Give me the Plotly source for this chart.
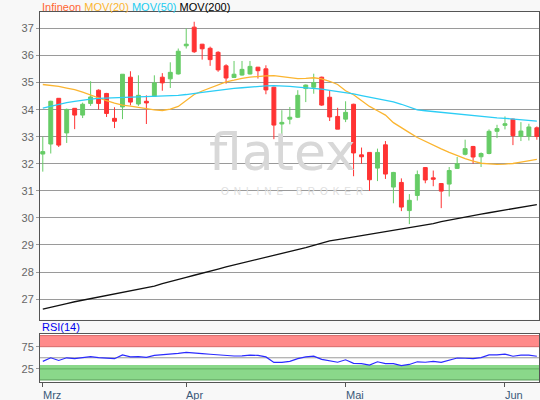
import plotly.graph_objects as go

# ---------------- data ----------------
opens = [32.36, 32.73, 34.42, 33.14, 34.05, 33.80, 34.23, 34.72, 34.60, 33.68,
         34.10, 35.20, 34.21, 34.31, 34.49, 35.20, 35.14, 35.32, 36.36, 37.05,
         36.42, 36.27, 36.12, 35.62, 35.19, 35.28, 35.32, 35.57, 35.51, 34.83,
         33.47, 33.65, 33.72, 34.78, 34.83, 35.20, 34.46, 33.75, 33.65, 34.20,
         32.33, 32.42, 31.84, 32.70, 31.14, 31.31, 30.27, 30.83, 31.86, 31.48,
         31.27, 31.25, 31.83, 32.35, 32.64, 32.26, 32.38, 33.20, 33.42, 33.65,
         33.01, 33.02, 33.33]
highs = [33.00, 34.33, 34.43, 34.04, 34.06, 34.26, 35.05, 34.75, 34.62, 34.09,
         35.31, 35.42, 35.27, 34.53, 35.27, 35.35, 35.75, 36.26, 37.00, 37.25,
         36.43, 36.33, 36.16, 35.68, 35.80, 35.80, 35.80, 35.58, 35.64, 34.85,
         33.98, 34.10, 34.72, 34.93, 35.33, 35.22, 34.69, 34.07, 34.31, 34.22,
         32.60, 32.43, 32.56, 32.84, 31.70, 31.46, 30.88, 31.75, 31.88, 31.75,
         31.28, 31.88, 32.25, 32.89, 32.66, 32.42, 33.27, 33.44, 33.75, 33.67,
         33.54, 33.48, 33.38]
lows = [31.71, 32.38, 32.62, 32.77, 33.28, 33.69, 34.14, 34.00, 33.73, 33.32,
        33.65, 34.16, 34.14, 33.47, 34.47, 34.70, 34.80, 35.30, 36.26, 36.10,
        35.85, 35.62, 35.40, 34.96, 35.17, 35.26, 35.30, 35.15, 34.57, 32.91,
        32.99, 33.46, 33.69, 34.28, 34.59, 34.14, 33.58, 33.28, 33.54, 31.54,
        32.00, 31.00, 31.36, 31.44, 30.54, 30.25, 29.77, 30.64, 31.28, 31.17,
        30.36, 30.79, 31.82, 32.31, 32.00, 31.88, 32.35, 32.95, 33.27, 32.69,
        32.84, 32.86, 32.89]
closes = [32.45, 34.31, 32.69, 34.01, 33.80, 34.20, 34.47, 34.23, 33.86, 33.57,
          35.31, 34.28, 34.53, 34.25, 34.99, 34.99, 35.38, 36.16, 36.42, 36.14,
          36.25, 35.85, 35.47, 35.17, 35.31, 35.49, 35.60, 35.44, 34.73, 33.43,
          33.53, 33.72, 34.53, 34.91, 35.00, 34.17, 33.73, 33.28, 33.90, 32.40,
          32.26, 31.41, 32.42, 31.62, 31.68, 30.40, 30.65, 31.60, 31.40, 31.43,
          30.99, 31.75, 32.00, 32.56, 32.25, 32.38, 33.20, 33.30, 33.48, 33.04,
          33.21, 33.36, 33.01]

mov20 = [34.93, 34.90, 34.86, 34.80, 34.74, 34.65, 34.54, 34.43, 34.33, 34.24,
         34.17, 34.13, 34.08, 34.03, 33.99, 33.97, 34.02, 34.12, 34.35, 34.56,
         34.69, 34.80, 34.92, 35.03, 35.09, 35.16, 35.20, 35.23, 35.25, 35.26,
         35.22, 35.17, 35.15, 35.16, 35.18, 35.14, 35.05, 34.93, 34.70, 34.55,
         34.35, 34.12, 33.96, 33.80, 33.52, 33.35, 33.15, 32.97, 32.82, 32.70,
         32.55, 32.42, 32.30, 32.19, 32.10, 32.02, 32.00, 31.98, 31.99, 32.01,
         32.06, 32.12, 32.16]
mov50 = [34.06, 34.13, 34.20, 34.26, 34.31, 34.36, 34.39, 34.42, 34.43, 34.44,
         34.45, 34.46, 34.47, 34.48, 34.48, 34.49, 34.51, 34.53, 34.56, 34.59,
         34.64, 34.68, 34.72, 34.76, 34.79, 34.81, 34.84, 34.87, 34.88, 34.89,
         34.88, 34.86, 34.83, 34.81, 34.79, 34.76, 34.71, 34.67, 34.62, 34.58,
         34.52, 34.46, 34.41, 34.35, 34.29, 34.20, 34.08, 33.99, 33.96, 33.93,
         33.90, 33.87, 33.84, 33.80, 33.77, 33.74, 33.72, 33.70, 33.68, 33.66,
         33.64, 33.61, 33.58]
mov200 = [26.63, 26.69, 26.76, 26.83, 26.90, 26.96, 27.02, 27.08, 27.14, 27.20,
          27.26, 27.31, 27.36, 27.42, 27.48, 27.57, 27.64, 27.72, 27.80, 27.88,
          27.95, 28.03, 28.11, 28.19, 28.26, 28.33, 28.40, 28.47, 28.54, 28.60,
          28.67, 28.74, 28.82, 28.90, 28.98, 29.06, 29.15, 29.20, 29.25, 29.30,
          29.35, 29.40, 29.45, 29.50, 29.54, 29.58, 29.63, 29.68, 29.73, 29.79,
          29.86, 29.92, 29.98, 30.04, 30.09, 30.14, 30.19, 30.24, 30.29, 30.33,
          30.38, 30.43, 30.49]
rsi14 = [42, 50, 44, 50, 48, 49.5, 52.5, 50.5, 49, 48,
         56.5, 52, 52.5, 51, 55.5, 56.5, 57.5, 60, 62, 60,
         59.5, 58, 56.5, 54.5, 54, 54.5, 56, 55.5, 52, 39.5,
         39.5, 42, 48, 52, 53.5, 46.5, 44, 40, 45.5, 37.5,
         37, 33.5, 41, 37, 37, 32.5, 35, 41, 40, 42,
         39.5, 45, 49.5, 49, 48, 50.5, 56.5, 56.5, 58, 53.5,
         56, 56, 53.5]

month_labels = ["Mrz", "Apr", "Mai", "Jun"]
month_index = [0, 18, 38, 58]
price_ticks = [27, 28, 29, 30, 31, 32, 33, 34, 35, 36, 37]
rsi_ticks = [25, 75]

x = list(range(len(closes)))

FONT = "Liberation Sans, Arial, sans-serif"
UP, DOWN = "#66cc66", "#ff3333"

fig = go.Figure()

fig.add_trace(go.Candlestick(
    x=x, open=opens, high=highs, low=lows, close=closes,
    increasing=dict(line=dict(color=UP, width=1), fillcolor=UP),
    decreasing=dict(line=dict(color=DOWN, width=1), fillcolor=DOWN),
    whiskerwidth=0, xaxis="x", yaxis="y", showlegend=False, hoverinfo="skip"))

for vals, col in [(mov20, "#fbb530"), (mov50, "#2ccdf5"), (mov200, "#111111")]:
    fig.add_trace(go.Scatter(x=x, y=vals, mode="lines",
                             line=dict(color=col, width=1.3),
                             xaxis="x", yaxis="y", showlegend=False, hoverinfo="skip"))

fig.add_trace(go.Scatter(x=x, y=rsi14, mode="lines",
                         line=dict(color="#2b2bff", width=1.2),
                         xaxis="x2", yaxis="y2", showlegend=False, hoverinfo="skip"))

shapes = [
    dict(type="rect", xref="x2 domain", yref="y2", x0=0, x1=1, y0=75, y1=100,
         fillcolor="#ff8a8a", line_width=0, layer="below"),
    dict(type="rect", xref="x2 domain", yref="y2", x0=0, x1=1, y0=0, y1=34,
         fillcolor="#8ad88a", line_width=0, layer="below"),
]
for yv, col in [(100, "#d86a6a"), (75, "#d86a6a"), (50, "#9a9a9a"),
                (25, "#5faf5f"), (0, "#5a9a5a")]:
    shapes.append(dict(type="line", xref="x2 domain", yref="y2", x0=0, x1=1,
                       y0=yv, y1=yv, line=dict(color=col, width=1), layer="below"))

annotations = [
    dict(xref="paper", yref="paper", x=0.0, y=1.0135, xanchor="left", yanchor="middle",
         showarrow=False, font=dict(family=FONT, size=11),
         text="<span style='color:#ff6633'>Infineon</span> "
              "<span style='color:#fbb530'>MOV(20)</span> "
              "<span style='color:#22ccf0'>MOV(50)</span> "
              "<span style='color:#000000'>MOV(200)</span>"),
    dict(xref="paper", yref="paper", x=0.0, y=0.1486, xanchor="left", yanchor="middle",
         showarrow=False, text="RSI(14)", font=dict(family=FONT, size=11, color="#0000ee")),
    dict(xref="paper", yref="paper", x=0.485, y=0.622, xanchor="center", yanchor="middle",
         showarrow=False, text="flatex",
         font=dict(family="DejaVu Sans, sans-serif", size=52, color="#d8d8d8")),
    dict(xref="paper", yref="paper", x=0.51, y=0.515, xanchor="center", yanchor="middle",
         showarrow=False,
         text="<span style='letter-spacing:5px'>ONLINE BROKER</span>",
         font=dict(family=FONT, size=10, color="#e0e0e0")),
]
for lab, idx in zip(month_labels, month_index):
    annotations.append(dict(xref="x2", yref="paper", x=idx, y=-0.035,
                            xanchor="left", yanchor="middle", xshift=-2,
                            showarrow=False, text=lab,
                            font=dict(family=FONT, size=11, color="#3a5878")))

xr = [-0.35, 62.27]
fig.update_layout(
    width=540, height=400,
    margin=dict(l=40, r=1, t=12, b=18),
    paper_bgcolor="#f8f8f8", plot_bgcolor="#ffffff",
    font=dict(family=FONT, size=11, color="#666666"),
    showlegend=False,
    xaxis=dict(domain=[0, 1], anchor="y", range=xr, showticklabels=False,
               showgrid=False, zeroline=False, ticks="",
               showline=True, mirror=True, linecolor="#555555", linewidth=1,
               rangeslider=dict(visible=False)),
    yaxis=dict(domain=[0.1686, 1], anchor="x", range=[26.24, 37.61],
               tickvals=price_ticks, ticks="outside", ticklen=3, tickcolor="#999999",
               showgrid=True, gridcolor="#9a9a9a", gridwidth=1, zeroline=False,
               showline=True, mirror=True, linecolor="#555555", linewidth=1,
               tickfont=dict(size=11, color="#666666")),
    xaxis2=dict(domain=[0, 1], anchor="y2", range=xr, tickvals=month_index,
                showticklabels=False, ticks="outside", ticklen=4, tickcolor="#555555",
                showgrid=False, zeroline=False,
                showline=True, mirror=True, linecolor="#555555", linewidth=1),
    yaxis2=dict(domain=[0, 0.1303], anchor="x2", range=[-4.5, 104],
                tickvals=rsi_ticks, ticks="outside", ticklen=3, tickcolor="#999999",
                showgrid=False, zeroline=False,
                showline=True, mirror=True, linecolor="#555555", linewidth=1,
                tickfont=dict(size=11, color="#666666")),
    shapes=shapes,
    annotations=annotations,
)

fig.write_html(
    "out.html",
    config={"displayModeBar": False},
    post_script="document.body.style.margin='0';document.body.style.overflow='hidden';",
)
